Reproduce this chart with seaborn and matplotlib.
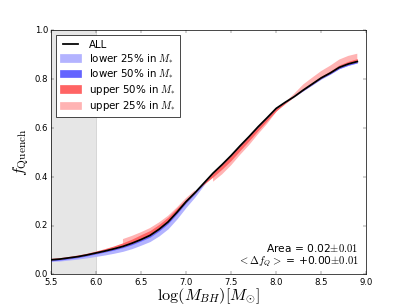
import numpy as np
import pandas as pd
import seaborn as sns
import matplotlib.pyplot as plt
from matplotlib.lines import Line2D
from matplotlib.patches import Patch

# log black hole mass bins
mbh = [5.5, 5.6, 5.7, 5.8, 5.9, 6.0, 6.1, 6.2, 6.3, 6.4, 6.5, 6.6, 6.7, 6.8, 6.9,
       7.0, 7.1, 7.2, 7.3, 7.4, 7.5, 7.6, 7.7, 7.8, 7.9, 8.0, 8.1, 8.2, 8.3, 8.4,
       8.5, 8.6, 8.7, 8.8, 8.9]

f_all = [0.060, 0.063, 0.068, 0.073, 0.080, 0.088, 0.096, 0.105, 0.115, 0.128,
         0.143, 0.160, 0.185, 0.215, 0.255, 0.298, 0.335, 0.375, 0.415, 0.450,
         0.487, 0.527, 0.565, 0.605, 0.642, 0.680, 0.705, 0.728, 0.755, 0.780,
         0.805, 0.825, 0.848, 0.862, 0.872]

f_low25 = [0.053, 0.055, 0.059, 0.063, 0.068, 0.074, 0.080, 0.087, 0.095, 0.106,
           0.120, 0.135, 0.158, 0.187, 0.228, 0.275, 0.318, 0.367, 0.415, 0.454,
           0.492, 0.532, 0.570, 0.610, 0.647, 0.685, 0.707, 0.728, 0.752, 0.776,
           0.800, 0.820, 0.843, 0.856, 0.866]

f_low50 = [0.056, 0.059, 0.064, 0.069, 0.076, 0.084, 0.092, 0.100, 0.110, 0.122,
           0.137, 0.153, 0.178, 0.208, 0.249, 0.293, 0.331, 0.372, 0.415, 0.452,
           0.490, 0.530, 0.568, 0.608, 0.645, 0.683, 0.706, 0.728, 0.753, 0.777,
           0.802, 0.821, 0.843, 0.857, 0.867]

f_up50 = [0.066, 0.069, 0.074, 0.080, 0.087, 0.096, 0.106, 0.117, 0.130, 0.145,
          0.163, 0.180, 0.205, 0.235, 0.272, 0.308, 0.340, 0.370, 0.400, 0.432,
          0.467, 0.508, 0.548, 0.590, 0.630, 0.670, 0.700, 0.728, 0.758, 0.785,
          0.812, 0.833, 0.858, 0.873, 0.884]

f_up25 = [np.nan, np.nan, np.nan, np.nan, np.nan, np.nan, np.nan, np.nan, 0.145, 0.158,
          0.173, 0.190, 0.213, 0.240, 0.275, 0.313, 0.345, np.nan, 0.380, 0.410,
          0.447, 0.490, 0.530, 0.575, 0.617, 0.665, 0.705, 0.740, 0.778, 0.806,
          0.833, 0.855, 0.880, 0.895, 0.904]

plt.style.use("classic")
plt.rcParams["mathtext.fontset"] = "cm"

df = pd.DataFrame({"mbh": mbh, "f_all": f_all})

fig = plt.figure(figsize=(8, 6), dpi=50.875, facecolor="white")
ax = fig.add_subplot(111)

ax.axvspan(5.5, 6.0, facecolor="0.9", edgecolor="0.8", zorder=0)

ax.fill_between(mbh, f_all, f_up25, color="#ffb3b3", lw=0)
ax.fill_between(mbh, f_all, f_low25, color="#b3b3ff", lw=0)
ax.fill_between(mbh, f_all, f_low50, color="#6464ff", lw=0)
ax.fill_between(mbh, f_all, f_up50, color="#ff6464", lw=0)

sns.lineplot(data=df, x="mbh", y="f_all", color="black", lw=2.5, ax=ax)

ax.set_xlim(5.5, 9.0)
ax.set_ylim(0.0, 1.0)
ax.set_xticks([5.5, 6.0, 6.5, 7.0, 7.5, 8.0, 8.5, 9.0])
ax.set_yticks([0.0, 0.2, 0.4, 0.6, 0.8, 1.0])
ax.tick_params(axis="x", pad=4)
ax.set_xlabel(r"$\log(M_{BH}) [M_{\odot}]$", fontsize=23, labelpad=0)
ax.set_ylabel(r"$f_{\rm Quench}$", fontsize=23)

handles = [Line2D([], [], color="black", lw=2.5),
           Patch(color="#b3b3ff"), Patch(color="#6464ff"),
           Patch(color="#ff6464"), Patch(color="#ffb3b3")]
labels = ["ALL", r"lower 25% in $M_{*}$", r"lower 50% in $M_{*}$",
          r"upper 50% in $M_{*}$", r"upper 25% in $M_{*}$"]
ax.legend(handles, labels, loc="upper left", fontsize=14.5, labelspacing=0.25,
          borderpad=0.4)

ax.text(0.975, 0.095, r"Area = 0.02$\pm0.01$", transform=ax.transAxes,
        ha="right", fontsize=15)
ax.text(0.975, 0.045, r"$<\Delta f_Q>$ = +0.00$\pm0.01$", transform=ax.transAxes,
        ha="right", fontsize=15)

fig.savefig("out.png", dpi=50.875, facecolor="white")
